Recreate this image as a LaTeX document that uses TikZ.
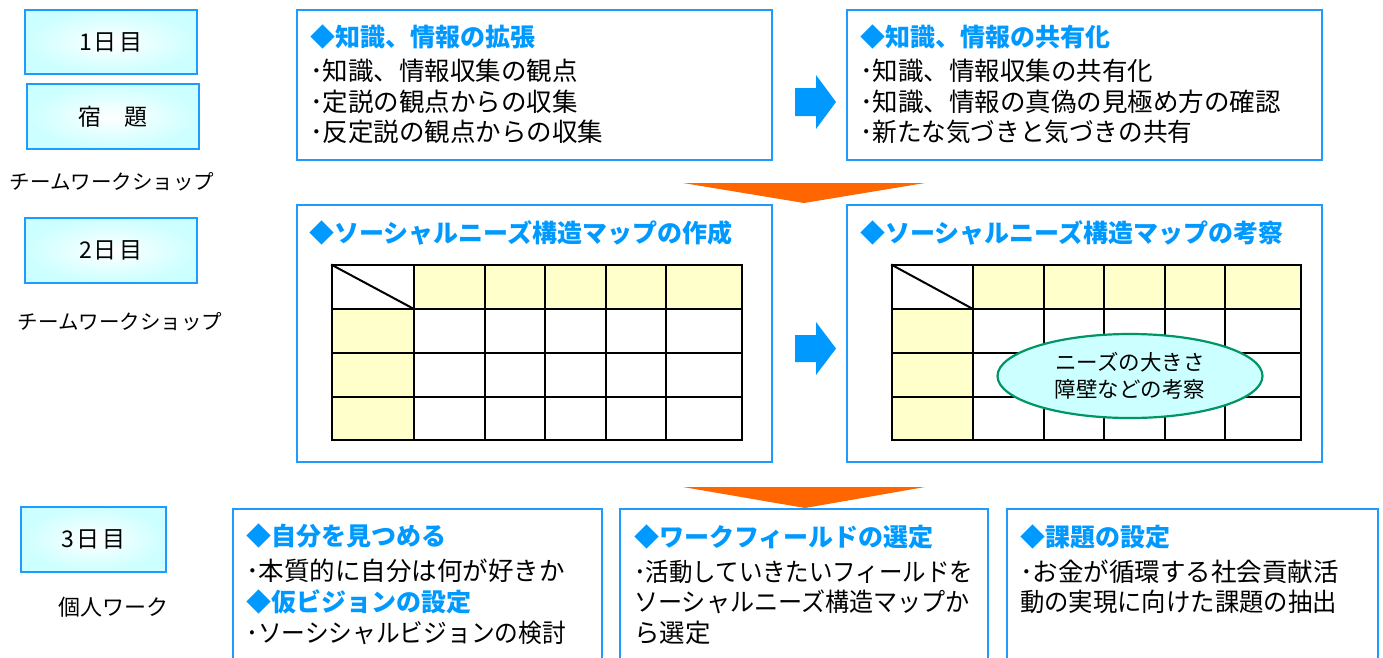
\documentclass[tikz,border=0pt]{standalone}
\usepackage{fontspec}
\usepackage{graphicx}
\setmainfont{Noto Sans CJK JP}
\usetikzlibrary{shapes.geometric}
\definecolor{hblue}{RGB}{0,153,255}
\definecolor{bblue}{RGB}{30,155,255}
\definecolor{lcyan}{RGB}{204,255,255}
\definecolor{lyellow}{RGB}{255,255,204}
\definecolor{orng}{RGB}{255,102,0}
\definecolor{egreen}{RGB}{0,150,100}
\newcommand{\sq}[2]{\scalebox{#1}[1]{#2}}
\begin{document}
\begin{tikzpicture}[x=1pt,y=-1pt,
  daybox/.style={draw=bblue, line width=2.5pt, minimum width=172pt, minimum height=64pt,
    inner color=white, outer color=lcyan, font=\fontsize{23}{23}\selectfont},
  sidelabel/.style={inner sep=0pt, font=\fontsize{20.5}{20.5}\selectfont},
  panel/.style={draw=bblue, line width=2pt, fill=white, inner sep=0pt},
  hd/.style={anchor=west, inner sep=0pt, text=hblue, font=\bfseries\fontsize{25}{25}\selectfont},
  body/.style={anchor=west, inner sep=0pt, font=\fontsize{25.5}{25.5}\selectfont},
  gridline/.style={line width=2pt, black, line cap=rect},
  blockarrow/.style={fill=hblue},
  downarrow/.style={fill=orng},
  bubble/.style={ellipse, draw=egreen, line width=2.2pt, fill=lcyan, minimum width=265pt,
    minimum height=84pt, align=center, inner sep=0pt, font=\fontsize{21.5}{27}\selectfont}
]
\useasboundingbox (0,0) rectangle (1383,657);
\clip (0,0) rectangle (1383,657);

% left column
\node[daybox] (d1) at (111,42) {1\kern2pt 日\kern3pt 目};
\node[daybox, minimum height=65pt] (d2) at (113,116.5) {宿　題};
\node[sidelabel] (s1) at (112,182) {チームワークショップ};
\node[daybox, minimum height=65pt] (d3) at (111,250.5) {2\kern2pt 日\kern3pt 目};
\node[sidelabel] (s2) at (120,322) {チームワークショップ};
\node[daybox, minimum width=145pt, minimum height=65pt] (d4) at (93.5,539.5) {3\kern2pt 日\kern3pt 目};
\node[sidelabel, font=\fontsize{22}{22}\selectfont] (s3) at (113,607) {個人ワーク};

% panels
\node[panel, minimum width=475pt, minimum height=150pt] (p1) at (534.5,85) {};
\node[panel, minimum width=475pt, minimum height=150pt] (p2) at (1084.5,85) {};
\node[panel, minimum width=475pt, minimum height=257pt] (p3) at (534.5,333.5) {};
\node[panel, minimum width=475pt, minimum height=257pt] (p4) at (1084.5,333.5) {};
\node[panel, minimum width=369pt, minimum height=191pt] (p5) at (417.5,604.5) {};
\node[panel, minimum width=368pt, minimum height=191pt] (p6) at (804,604.5) {};
\node[panel, minimum width=371pt, minimum height=191pt] (p7) at (1192.5,604.5) {};

% panel 1
\node[hd] (h1) at (310,37) {◆知識、情報の拡張};
\node[body] (b11) at (310,71) {･知識、情報収集の観点};
\node[body] (b12) at (310,102) {･定説の観点からの収集};
\node[body] (b13) at (310,132) {･反定説の観点からの収集};
% panel 2
\node[hd] (h2) at (860,37) {◆知識、情報の共有化};
\node[body] (b21) at (860,71) {･知識、情報収集の共有化};
\node[body] (b22) at (860,102) {･知識、情報の真偽の見極め方の確認};
\node[body] (b23) at (860,132) {\sq{0.965}{･新たな気づきと気づきの共有}};
% panel 3 / 4 headings
\node[hd] (h3) at (309,233) {◆ソーシャルニーズ構造マップの作成};
\node[hd] (h4) at (860,233) {◆ソーシャルニーズ構造マップの考察};

% grid left
\fill[lyellow] (414,265) rectangle (742,309);
\fill[lyellow] (332,309) rectangle (414,440);
\foreach \x in {332,414,485,545,606,666,742} \draw[gridline] (\x,265) -- (\x,440);
\foreach \y in {265,309,353,397,440} \draw[gridline] (332,\y) -- (742,\y);
\draw[gridline] (332,265) -- (414,309);
% grid right
\fill[lyellow] (973,265) rectangle (1301,309);
\fill[lyellow] (892,309) rectangle (973,440);
\foreach \x in {892,973,1044,1104,1165,1225,1301} \draw[gridline] (\x,265) -- (\x,440);
\foreach \y in {265,309,353,397,440} \draw[gridline] (892,\y) -- (1301,\y);
\draw[gridline] (892,265) -- (973,309);
\node[bubble] (el) at (1130,376) {ニーズの大きさ\\障壁などの考察};

% bottom panels
\node[hd] (h5) at (246,536) {◆自分を見つめる};
\node[body] (b51) at (246,571) {･本質的に自分は何が好きか};
\node[hd] (h52) at (246,602) {◆仮ビジョンの設定};
\node[body] (b52) at (246,633) {\sq{0.93}{･ソーシシャルビジョンの検討}};
\node[hd] (h6) at (634,537) {◆ワークフィールドの選定};
\node[body] (b61) at (634,572) {\sq{0.92}{･活動していきたいフィールドを}};
\node[body] (b62) at (634,602) {\sq{0.945}{ソーシャルニーズ構造マップか}};
\node[body] (b63) at (634,633) {ら選定};
\node[hd] (h7) at (1020,537) {◆課題の設定};
\node[body] (b71) at (1020,572) {･お金が循環する社会貢献活};
\node[body] (b72) at (1020,602) {\sq{0.955}{動の実現に向けた課題の抽出}};

% blue block arrows
\fill[blockarrow] (795,88) -- (816,88) -- (816,75) -- (836,102) -- (816,129) -- (816,116) -- (795,116) -- cycle;
\fill[blockarrow] (795,335) -- (816,335) -- (816,322) -- (836,348.5) -- (816,375) -- (816,362) -- (795,362) -- cycle;
% orange down arrows
\fill[downarrow] (683,183) -- (925,183) -- (804,203) -- cycle;
\fill[downarrow] (683,487) -- (925,487) -- (805,508) -- cycle;
\end{tikzpicture}
\end{document}
